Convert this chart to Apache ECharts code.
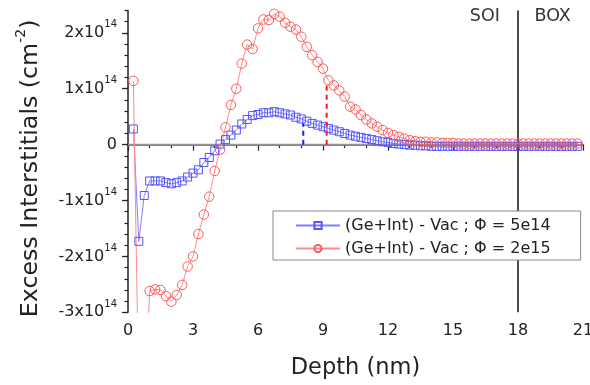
<!DOCTYPE html>
<html><head><meta charset="utf-8">
<script src="https://cdn.jsdelivr.net/npm/echarts@6/dist/echarts.min.js"></script>
<style>html,body{margin:0;padding:0;background:#fff}#c{width:590px;height:385px}</style>
</head><body><div id="c"></div>
<script>
// Depth grid (nm)
const depth = [0.25,0.5,0.75,1.0,1.25,1.5,1.75,2.0,2.25,2.5,2.75,3.0,3.25,3.5,3.75,4.0,4.25,4.5,4.75,5.0,
  5.25,5.5,5.75,6.0,6.25,6.5,6.75,7.0,7.25,7.5,7.75,8.0,8.25,8.5,8.75,9.0,9.25,9.5,9.75,10.0,
  10.25,10.5,10.75,11.0,11.25,11.5,11.75,12.0,12.25,12.5,12.75,13.0,13.25,13.5,13.75,14.0,14.25,14.5,14.75,15.0,
  15.25,15.5,15.75,16.0,16.25,16.5,16.75,17.0,17.25,17.5,17.75,18.0,18.25,18.5,18.75,19.0,19.25,19.5,19.75,20.0,
  20.25,20.5,20.75];
// Excess interstitials, units of 1e14 cm^-2
const blueVals = [0.28,-1.73,-0.91,-0.65,-0.65,-0.65,-0.68,-0.70,-0.68,-0.65,-0.58,-0.51,-0.45,-0.32,-0.23,-0.11,0.01,0.09,0.17,0.26,
  0.37,0.45,0.52,0.54,0.57,0.57,0.59,0.57,0.55,0.53,0.49,0.46,0.42,0.38,0.35,0.32,0.29,0.26,0.23,0.20,
  0.17,0.15,0.13,0.11,0.09,0.07,0.05,0.04,0.02,0.01,0.0,-0.01,-0.01,-0.02,-0.02,-0.03,-0.03,-0.03,-0.03,-0.03,
  -0.03,-0.03,-0.03,-0.03,-0.03,-0.03,-0.03,-0.03,-0.03,-0.03,-0.03,-0.03,-0.03,-0.03,-0.03,-0.03,-0.03,-0.03,-0.03,-0.03,
  -0.03,-0.03,-0.03];
const redVals = [1.14,-4.6,-4.8,-2.62,-2.59,-2.60,-2.71,-2.81,-2.69,-2.51,-2.18,-2.0,-1.6,-1.25,-0.93,-0.47,-0.09,0.31,0.71,1.0,
  1.45,1.79,1.71,2.08,2.24,2.23,2.34,2.29,2.18,2.11,2.06,1.93,1.75,1.60,1.48,1.36,1.15,1.06,0.97,0.86,
  0.68,0.63,0.53,0.45,0.38,0.32,0.26,0.21,0.17,0.14,0.11,0.08,0.06,0.05,0.05,0.04,0.04,0.03,0.03,0.03,
  0.02,0.02,0.02,0.02,0.02,0.02,0.02,0.02,0.02,0.02,0.02,0.02,0.02,0.02,0.02,0.02,0.02,0.02,0.02,0.02,
  0.02,0.02,0.02];
const seriesNames = ['(Ge+Int) - Vac ; \u03A6 = 5e14', '(Ge+Int) - Vac ; \u03A6 = 2e15'];
// dashed markers: [depth, top value]
const blueDash = [8.09, 0.38];
const redDash = [9.17, 1.10];
const boundaryDepth = 18;
const xTicks = [0,3,6,9,12,15,18,21];
const yTicks = [-3,-2,-1,0,1,2];
const regionLabels = ['SOI','BOX'];

const FONT = 'DejaVu Sans';
const X_MIN = 0, X_MAX = 21, Y_MIN = -3, Y_MAX = 2.4;

const chart = echarts.init(document.getElementById('c'), null, {renderer:'canvas'});
const pairs = (xs, ys) => xs.map((x,i)=>[x, ys[i]]);

const option = {
  animation: false,
  backgroundColor: '#fff',
  grid: {left:128, right:7, top:10.5, bottom:72.7, containLabel:false, outerBoundsMode:'none'},
  legend: {
    left: 273, top: 211, orient: 'vertical', data: seriesNames,
    backgroundColor: '#fff', borderColor: '#888', borderWidth: 1,
    padding: [6, 30, 3, 22], itemWidth: 44, itemHeight: 9, itemGap: 6,
    textStyle: {fontFamily: FONT, fontSize: 16, color: '#222', lineHeight: 17},
    selectedMode: false
  },
  xAxis: {
    type:'value', min:X_MIN, max:X_MAX, interval:3,
    name:'Depth (nm)', nameLocation:'middle', nameGap:44,
    nameTextStyle:{fontFamily:FONT, fontSize:22.5, color:'#222'},
    axisLine:{lineStyle:{color:'#222', width:1.5}},
    axisTick:{length:6, lineStyle:{color:'#222', width:1.2}},
    minorTick:{show:true, splitNumber:3, length:3.5, lineStyle:{color:'#222', width:1.2}},
    axisLabel:{fontFamily:FONT, fontSize:16, color:'#222', margin:11, customValues: xTicks},
    splitLine:{show:false}, minorSplitLine:{show:false}
  },
  yAxis: [{
    type:'value', min:Y_MIN, max:Y_MAX, interval:0.2,
    name:'{m|Excess Interstitials (cm}{s|-2}{m|)}', nameLocation:'middle', nameGap:80,
    nameTextStyle:{fontFamily:FONT, color:'#222', padding:[0,14,0,0],
      rich:{m:{fontFamily:FONT, fontSize:23.7, lineHeight:34, color:'#222'},
            s:{fontFamily:FONT, fontSize:14, lineHeight:14, verticalAlign:'top', color:'#222'}}},
    axisLine:{lineStyle:{color:'#222', width:1.5}},
    axisTick:{length:6, customValues: yTicks, lineStyle:{color:'#222', width:1.2}},
    axisLabel:{margin:11, customValues: yTicks,
      formatter: v => (Math.abs(v) < 1e-9 ? '{m|0}' : '{m|' + Math.round(v) + 'x10}{s|14}'),
      rich:{m:{fontFamily:FONT, fontSize:16, lineHeight:26, color:'#222'},
            s:{fontFamily:FONT, fontSize:10, lineHeight:12, verticalAlign:'top', color:'#222'}}},
    splitLine:{show:false}
  },{
    type:'value', min:Y_MIN, max:Y_MAX, interval:0.2, position:'left',
    axisLine:{show:false}, axisLabel:{show:false}, splitLine:{show:false},
    axisTick:{show:true, length:3.5, lineStyle:{color:'#222', width:1.2}}
  }],
  series: [
    {type:'line', name:'zero', data:[[X_MIN,0],[X_MAX,0]], symbol:'none', silent:true, z:1,
     lineStyle:{color:'#959595', width:2}},
    {type:'line', name:'boundary', data:[[boundaryDepth,Y_MIN],[boundaryDepth,Y_MAX]], symbol:'none', silent:true, z:1,
     lineStyle:{color:'#111', width:1.5}},
    {type:'line', name:seriesNames[0], data:pairs(depth, blueVals), symbol:'rect', symbolSize:8, showAllSymbol:true, z:3,
     lineStyle:{color:'#7f7fff', width:1}, itemStyle:{color:'rgba(255,255,255,0)', borderColor:'#5454ff', borderWidth:1}},
    {type:'line', name:seriesNames[1], data:pairs(depth, redVals), symbol:'circle', symbolSize:9.5, showAllSymbol:true, z:3,
     lineStyle:{color:'#ff8c8c', width:1}, itemStyle:{color:'rgba(255,255,255,0)', borderColor:'#ff5858', borderWidth:1}},
    {type:'line', name:'blueDash', data:[[blueDash[0],0],[blueDash[0],blueDash[1]]], symbol:'none', silent:true, z:4,
     lineStyle:{color:'#1a1aff', width:2, type:[5,4]}},
    {type:'line', name:'redDash', data:[[redDash[0],0],[redDash[0],redDash[1]]], symbol:'none', silent:true, z:4,
     lineStyle:{color:'#ff1a1a', width:2, type:[5,4]}}
  ]
};
chart.setOption(option);

const p1 = chart.convertToPixel({gridIndex:0}, [16.47, 2.29]);
const p2 = chart.convertToPixel({gridIndex:0}, [19.6, 2.29]);
chart.setOption({graphic:[
  {type:'text', x:p1[0], y:p1[1], style:{text:regionLabels[0], fontFamily:FONT, fontSize:17.5, fill:'#333', align:'center', verticalAlign:'middle'}},
  {type:'text', x:p2[0], y:p2[1], style:{text:regionLabels[1], fontFamily:FONT, fontSize:17.5, fill:'#333', align:'center', verticalAlign:'middle'}}
]});
</script></body></html>
